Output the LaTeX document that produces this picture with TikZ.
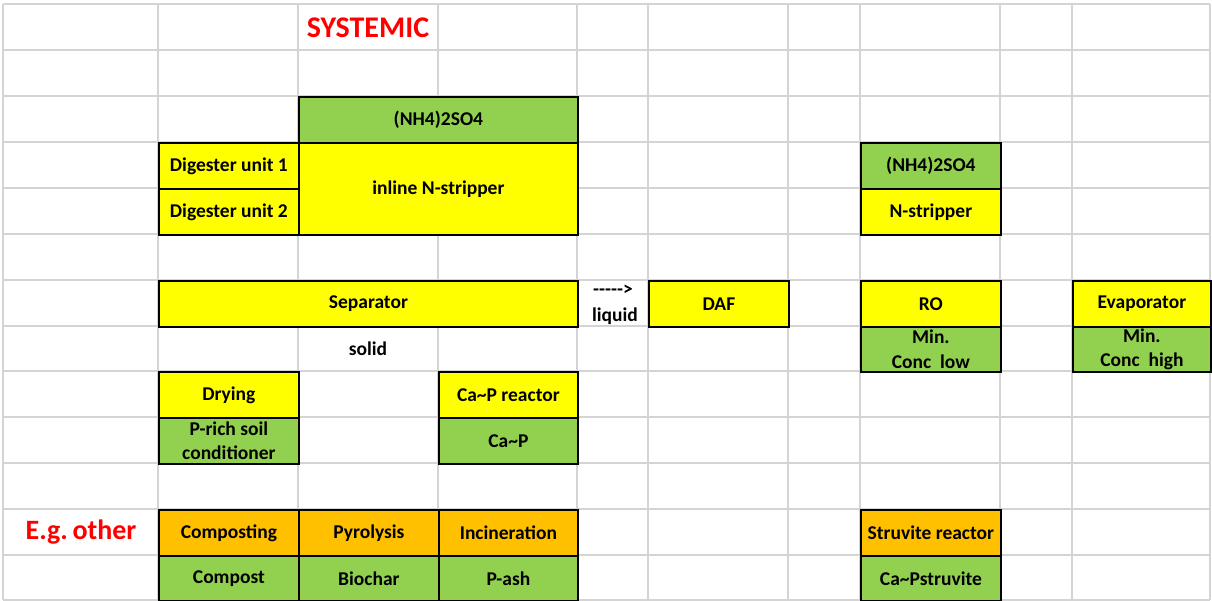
\documentclass[tikz,border=0pt]{standalone}
\usepackage{fontspec}
\setmainfont{Carlito}
\definecolor{gridgray}{HTML}{D4D4D4}
\definecolor{cyellow}{HTML}{FFFF00}
\definecolor{cgreen}{HTML}{92D050}
\definecolor{corange}{HTML}{FFC000}
\definecolor{cred}{HTML}{FF0000}
\begin{document}
\begin{tikzpicture}[x=1pt,y=-1pt,
  gridline/.style={draw=gridgray,line width=1.8pt},
  cellbox/.style={draw=black,line width=1.8pt,inner sep=0pt,anchor=north west,
    font=\bfseries\fontsize{19.5}{24.5}\selectfont,align=center,text=black},
  plaintext/.style={inner sep=0pt,font=\bfseries\fontsize{19.5}{24.5}\selectfont,align=center},
  redtitle/.style={inner sep=0pt,font=\bfseries\fontsize{30}{32}\selectfont,text=cred}]
\useasboundingbox[fill=white] (0,0) rectangle (1212,601);
% grid
\foreach \gx in {3,158,298,438,577,648,788,860,1000,1072,1210}
  \draw[gridline] (\gx,4) -- (\gx,600);
\foreach \gy in {4,50,96,142,188,234,280,326,371,417,463,509,555,600}
  \draw[gridline] (3,\gy) -- (1210,\gy);
% cells: name, x, y, w, h, colour, text
\newcommand\cellnode[7]{\node[cellbox,fill=#6,minimum width=#4pt,minimum height=#5pt] (#1) at (#2,#3) {#7};}
\cellnode{nhA}{298}{96}{279}{46}{cgreen}{(NH4)2SO4}
\cellnode{dig1}{158}{142}{140}{46}{cyellow}{Digester unit 1}
\cellnode{dig2}{158}{188}{140}{46}{cyellow}{Digester unit 2}
\cellnode{inline}{298}{142}{279}{92}{cyellow}{inline N-stripper}
\cellnode{nhB}{860}{142}{140}{46}{cgreen}{(NH4)2SO4}
\cellnode{nstrip}{860}{188}{140}{46}{cyellow}{N-stripper}
\cellnode{sep}{158}{280}{419}{46}{cyellow}{Separator}
\cellnode{daf}{648}{280}{140}{46}{cyellow}{DAF}
\cellnode{ro}{860}{280}{140}{46}{cyellow}{RO}
\cellnode{conclow}{860}{326}{140}{45}{cgreen}{Min.\\Conc\ \ low}
\cellnode{evap}{1072}{280}{138}{46}{cyellow}{Evaporator}
\cellnode{conchigh}{1072}{326}{138}{45}{cgreen}{Min.\\Conc\ \ high}
\cellnode{dry}{158}{371}{140}{46}{cyellow}{Drying}
\cellnode{prich}{158}{417}{140}{46}{cgreen}{P-rich soil\\conditioner}
\cellnode{capr}{438}{371}{139}{46}{cyellow}{Ca\textasciitilde P reactor}
\cellnode{cap}{438}{417}{139}{46}{cgreen}{Ca\textasciitilde P}
\cellnode{compo}{158}{509}{140}{46}{corange}{Composting}
\cellnode{pyro}{298}{509}{140}{46}{corange}{Pyrolysis}
\cellnode{incin}{438}{509}{139}{46}{corange}{Incineration}
\cellnode{compost}{158}{555}{140}{45}{cgreen}{Compost}
\cellnode{biochar}{298}{555}{140}{45}{cgreen}{Biochar}
\cellnode{pash}{438}{555}{139}{45}{cgreen}{P-ash}
\cellnode{struv}{860}{509}{140}{46}{corange}{Struvite reactor}
\cellnode{capstruv}{860}{555}{140}{45}{cgreen}{Ca\textasciitilde Pstruvite}
% free texts
\node[redtitle] (systemic) at (368,28) {SYSTEMIC};
\node[redtitle,font=\bfseries\fontsize{28}{30}\selectfont] (egother) at (81,532) {E.g.\,other};
\node[plaintext] (solid) at (368,349) {solid};
\node[plaintext] (arrowtxt) at (613,290) {{-}{-}{-}{-}{-}{>}};
\node[plaintext] (liquid) at (615,316) {liquid};
\end{tikzpicture}
\end{document}
